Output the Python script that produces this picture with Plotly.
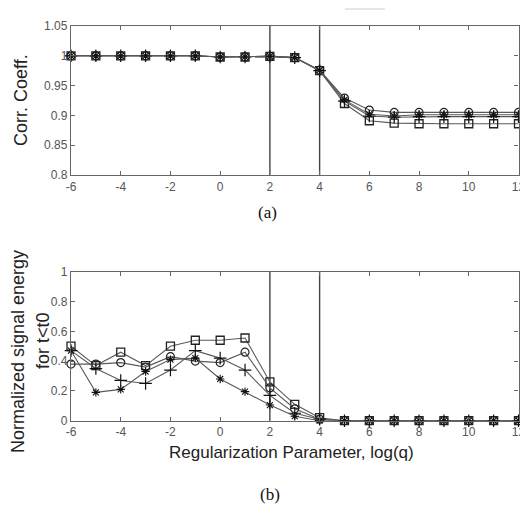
import plotly.graph_objects as go

# ---- data ----
log_q = [-6, -5, -4, -3, -2, -1, 0, 1, 2, 3, 4, 5, 6, 7, 8, 9, 10, 11, 12]
x_tick_vals = [-6, -4, -2, 0, 2, 4, 6, 8, 10, 12]
x_tick_text = ["-6", "-4", "-2", "0", "2", "4", "6", "8", "10", "12"]
vlines = [2, 4]

corr_square = [1, 1, 1, 1, 1, 1, 0.998, 0.998, 0.999, 0.997, 0.975, 0.920, 0.891, 0.887, 0.886, 0.886, 0.886, 0.886, 0.886]
corr_circle = [1, 1, 1, 1, 1, 1, 0.998, 0.998, 0.999, 0.997, 0.976, 0.929, 0.909, 0.905, 0.905, 0.905, 0.905, 0.905, 0.905]
corr_star = [1, 1, 1, 1, 1, 1, 0.998, 0.998, 0.999, 0.997, 0.976, 0.926, 0.902, 0.899, 0.901, 0.901, 0.901, 0.901, 0.901]
corr_plus = [1, 1, 1, 1, 1, 1, 0.998, 0.998, 0.999, 0.997, 0.975, 0.924, 0.899, 0.897, 0.898, 0.898, 0.898, 0.898, 0.898]

en_square = [0.50, 0.37, 0.46, 0.37, 0.50, 0.54, 0.54, 0.555, 0.26, 0.11, 0.02, 0, 0, 0, 0, 0, 0, 0, 0]
en_circle = [0.38, 0.38, 0.39, 0.36, 0.43, 0.40, 0.39, 0.46, 0.22, 0.08, 0.01, 0, 0, 0, 0, 0, 0, 0, 0]
en_plus = [0.47, 0.35, 0.27, 0.25, 0.34, 0.47, 0.42, 0.34, 0.17, 0.05, 0.01, 0, 0, 0, 0, 0, 0, 0, 0]
en_star = [0.47, 0.19, 0.21, 0.33, 0.41, 0.42, 0.28, 0.195, 0.105, 0.03, 0.0, 0, 0, 0, 0, 0, 0, 0, 0]

W, H = 520, 508
FONT = "Liberation Sans, Arial, sans-serif"
SERIF = "Liberation Serif, Times New Roman, serif"
LINE_C = "#5a5a5a"
AX_C = "#666666"

fig = go.Figure()

series = [
    ("square-open", 8, "#222222", 1.3),
    ("circle-open", 8, "#222222", 1.2),
    ("cross-thin-open", 9, "#111111", 1.2),
    ("asterisk-open", 7, "#111111", 1.1),
]

top_data = [corr_square, corr_circle, corr_plus, corr_star]
bot_data = [en_square, en_circle, en_plus, en_star]

for (sym, sz, mc, mw), y in zip(series, top_data):
    fig.add_trace(go.Scatter(
        x=log_q, y=y, mode="lines+markers", xaxis="x", yaxis="y",
        line=dict(color=LINE_C, width=1.1),
        marker=dict(symbol=sym, size=sz, color=mc, line=dict(width=mw, color=mc)),
        showlegend=False, cliponaxis=False))

for (sym, sz, mc, mw), y in zip(series, bot_data):
    fig.add_trace(go.Scatter(
        x=log_q, y=y, mode="lines+markers", xaxis="x2", yaxis="y2",
        line=dict(color=LINE_C, width=1.1),
        marker=dict(symbol=sym, size=sz, color=mc, line=dict(width=mw, color=mc)),
        showlegend=False, cliponaxis=False))

for xv in vlines:
    fig.add_shape(type="line", xref="x", yref="y domain", x0=xv, x1=xv, y0=0, y1=1,
                  line=dict(color="#444444", width=1.4), layer="below")
    fig.add_shape(type="line", xref="x2", yref="y2 domain", x0=xv, x1=xv, y0=0, y1=1,
                  line=dict(color="#444444", width=1.4), layer="below")

# faint scan smudge at top
fig.add_shape(type="line", xref="paper", yref="paper",
              x0=345 / W, x1=385 / W, y0=1 - 9 / H, y1=1 - 9 / H,
              line=dict(color="#e6e6e6", width=2))


def px_x(p):
    return p / W


def px_y(p):
    return 1 - p / H


xdom = [px_x(71), px_x(518.5)]
common_x = dict(range=[-6, 12], tickvals=x_tick_vals, ticktext=x_tick_text, automargin=False,
                showline=True, linecolor=AX_C, linewidth=1.4, mirror="ticks",
                ticks="inside", ticklen=4, tickcolor=AX_C, showgrid=False, zeroline=False,
                ticklabeloverflow="allow",
                tickfont=dict(family=FONT, size=12, color="#555555"))
common_y = dict(showline=True, linecolor=AX_C, linewidth=1.4, mirror="ticks", automargin=False,
                ticks="inside", ticklen=4, tickcolor=AX_C, showgrid=False, zeroline=False,
                tickfont=dict(family=FONT, size=12, color="#555555"))


def ann(text, x, y, size, family=FONT, angle=0, color="#222222"):
    return dict(text=text, x=px_x(x), y=px_y(y), xref="paper", yref="paper",
                xanchor="center", yanchor="middle", textangle=angle, showarrow=False,
                font=dict(family=family, size=size, color=color))


fig.update_layout(
    width=W, height=H, margin=dict(l=0, r=0, t=0, b=0, autoexpand=False),
    paper_bgcolor="white", plot_bgcolor="white",
    xaxis=dict(domain=xdom, anchor="y", **common_x),
    yaxis=dict(domain=[px_y(175), px_y(26)], anchor="x", range=[0.8, 1.05],
               tickvals=[0.8, 0.85, 0.9, 0.95, 1, 1.05],
               ticktext=["0.8", "0.85", "0.9", "0.95", "1", "1.05"], **common_y),
    xaxis2=dict(domain=xdom, anchor="y2", **common_x),
    yaxis2=dict(domain=[px_y(420.7), px_y(271.7)], anchor="x2", range=[0, 1],
                tickvals=[0, 0.2, 0.4, 0.6, 0.8, 1],
                ticktext=["0", "0.2", "0.4", "0.6", "0.8", "1"], **common_y),
    annotations=[
        ann("Corr. Coeff.", 21, 100, 18, angle=-90),
        ann("Normalized signal energy", 18, 352, 18, angle=-90),
        ann("for t&lt;t0", 43, 341, 18, angle=-90),
        ann("Regularization Parameter, log(q)", 291, 452, 17),
        ann("(a)", 267, 213, 17, family=SERIF, color="#111111"),
        ann("(b)", 270, 494, 17, family=SERIF, color="#111111"),
    ],
)

fig.write_html("out.html", post_script="document.body.style.margin='0';")
